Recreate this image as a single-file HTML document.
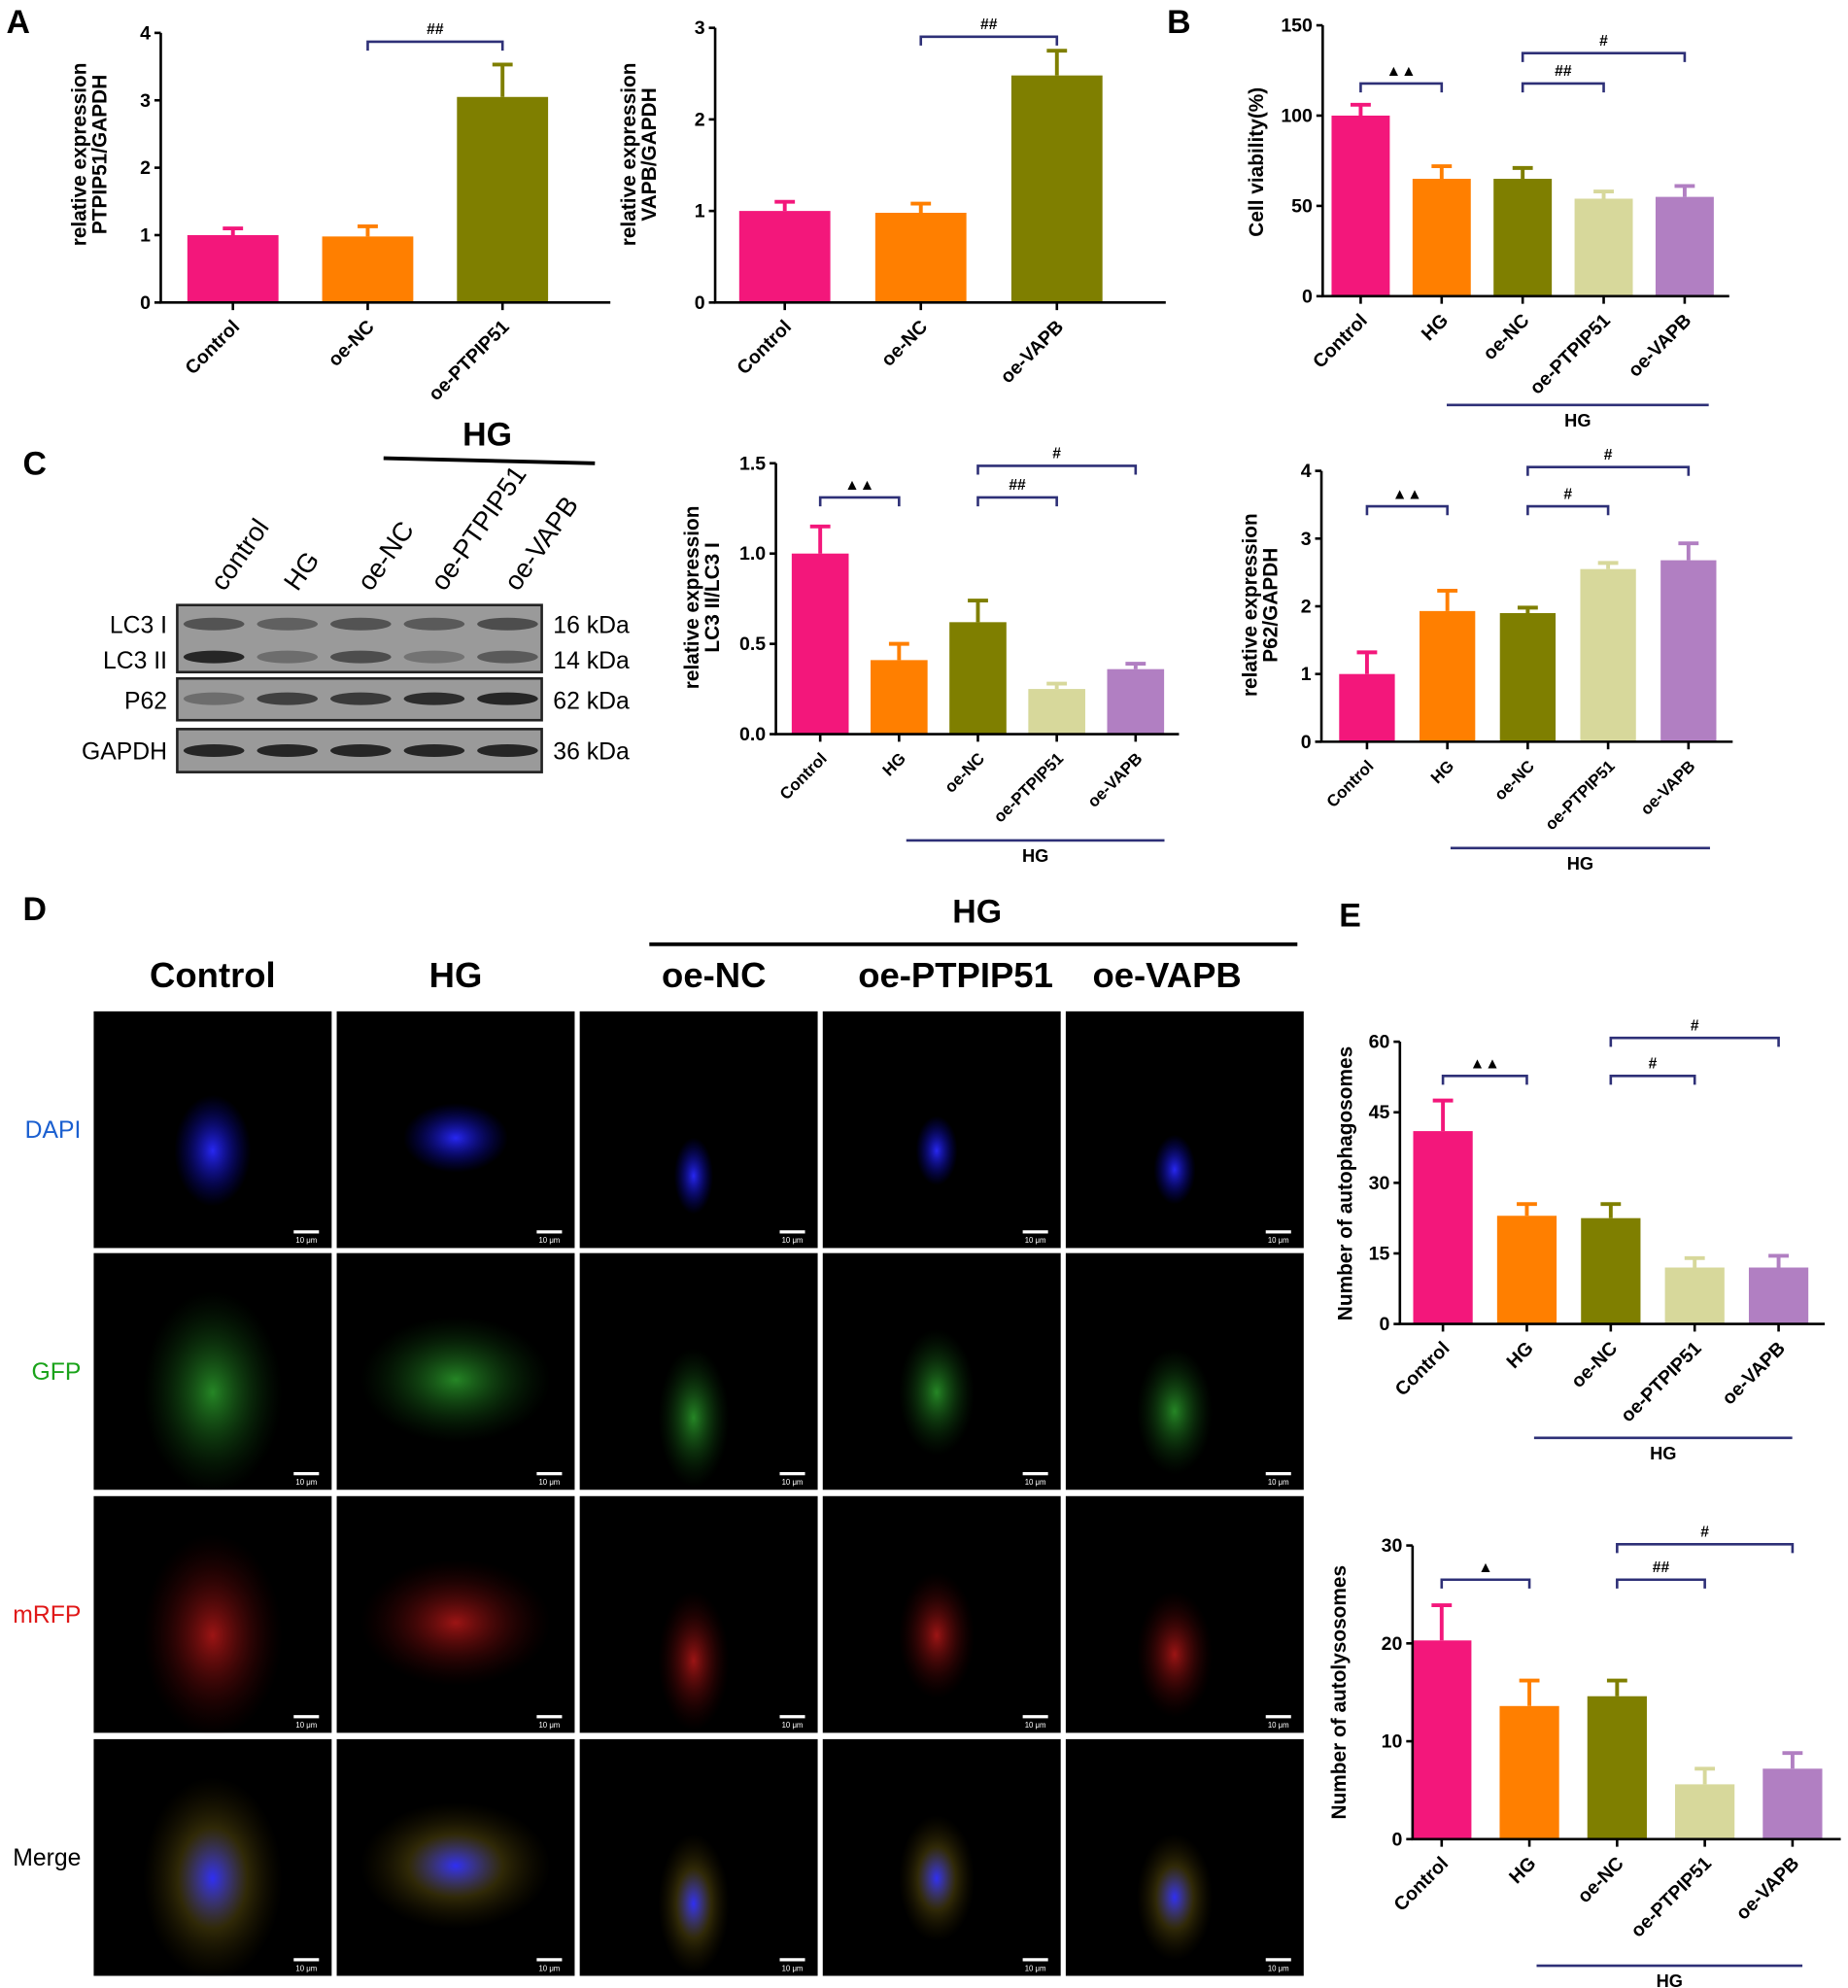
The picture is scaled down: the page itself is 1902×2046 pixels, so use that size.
<!DOCTYPE html>
<html><head><meta charset="utf-8"><style>
html,body{margin:0;padding:0;background:#fff;}
svg{display:block;font-family:"Liberation Sans",Arial,sans-serif;}
</style></head><body>
<svg id="fig" width="1902" height="2046" viewBox="0 0 1460 1570.6" xmlns="http://www.w3.org/2000/svg">
<defs>
<radialGradient id="gB"><stop offset="0" stop-color="#2a2aff" stop-opacity="0.95"/><stop offset="1" stop-color="#0000aa" stop-opacity="0"/></radialGradient>
<radialGradient id="gG"><stop offset="0" stop-color="#2fa82f" stop-opacity="0.8"/><stop offset="1" stop-color="#0a400a" stop-opacity="0"/></radialGradient>
<radialGradient id="gR"><stop offset="0" stop-color="#c41a1a" stop-opacity="0.8"/><stop offset="1" stop-color="#400000" stop-opacity="0"/></radialGradient>
<radialGradient id="gY"><stop offset="0" stop-color="#a09020" stop-opacity="0.85"/><stop offset="1" stop-color="#403000" stop-opacity="0"/></radialGradient>
</defs>
<g font-weight="bold" font-size="26">
<text x="5" y="26">A</text>
<text x="922" y="26">B</text>
<text x="18" y="375">C</text>
<text x="18" y="727">D</text>
<text x="1058" y="732">E</text>
</g>
<g id="charts"></g>
<g id="blot"></g>
<g id="micro"></g>
</svg>
<script>
const NS="http://www.w3.org/2000/svg";
const root=document.getElementById('charts');
function mk(tag,attrs,parent,text){const e=document.createElementNS(NS,tag);for(const k in attrs)e.setAttribute(k,attrs[k]);if(text!==undefined)e.textContent=text;(parent||root).appendChild(e);return e;}
const COLORS=["#f3177b","#ff7f00","#7f7f00","#d7d89b","#b17fc2"];
const NAVY="#2e3077";

// ---- Data ----
const catsA1=["Control","oe-NC","oe-PTPIP51"];
const valsA1=[1.0,0.98,3.05];
const errA1=[0.1,0.15,0.48];
const ticksA1=[0,1,2,3,4];

const catsA2=["Control","oe-NC","oe-VAPB"];
const valsA2=[1.0,0.98,2.48];
const errA2=[0.1,0.1,0.27];
const ticksA2=[0,1,2,3];

const catsB=["Control","HG","oe-NC","oe-PTPIP51","oe-VAPB"];
const valsB=[100,65,65,54,55];
const errB=[6,7,6,4,6];
const ticksB=[0,50,100,150];

const catsLC3=["Control","HG","oe-NC","oe-PTPIP51","oe-VAPB"];
const valsLC3=[1.0,0.41,0.62,0.25,0.36];
const errLC3=[0.15,0.09,0.12,0.03,0.03];
const ticksLC3=["0.0","0.5","1.0","1.5"];

const catsP62=["Control","HG","oe-NC","oe-PTPIP51","oe-VAPB"];
const valsP62=[1.0,1.93,1.9,2.55,2.68];
const errP62=[0.32,0.3,0.08,0.09,0.25];
const ticksP62=[0,1,2,3,4];

const catsE1=["Control","HG","oe-NC","oe-PTPIP51","oe-VAPB"];
const valsE1=[41,23,22.5,12,12];
const errE1=[6.5,2.5,3,2,2.5];
const ticksE1=[0,15,30,45,60];

const catsE2=["Control","HG","oe-NC","oe-PTPIP51","oe-VAPB"];
const valsE2=[20.3,13.6,14.6,5.6,7.2];
const errE2=[3.6,2.6,1.6,1.6,1.6];
const ticksE2=[0,10,20,30];

function chart(c){
  const g=mk('g',{});
  
  
  const max=Number(c.ticks[c.ticks.length-1]);
  const y=v=>c.y0-(v/max)*(c.y0-c.yTop);
  const x=i=>c.x0+i*c.step;
  const n=c.cats.length;
  const xEnd=x(n-1)+c.step*(c.ext||0.55);
  c.vals.forEach((v,i)=>{
    const col=COLORS[c.colorIdx?c.colorIdx[i]:i];
    const b=mk('rect',{x:x(i)-c.bw/2,y:y(v),width:c.bw,height:c.y0-y(v),fill:col},g);
    
    
    const e=mk('path',{d:`M${x(i)} ${y(v)}V${y(v+c.err[i])}M${x(i)-8} ${y(v+c.err[i])}H${x(i)+8}`,stroke:col,'stroke-width':3,fill:'none'},g);
    
    
  });
  const ax=mk('path',{d:`M${c.axX} ${c.yTop}V${c.y0}H${xEnd}`,stroke:'#000','stroke-width':2,fill:'none'},g);
  
  
  c.ticks.forEach(t=>{
    const yy=y(Number(t));
    mk('line',{x1:c.axX-5,x2:c.axX,y1:yy,y2:yy,stroke:'#000','stroke-width':2},g);
    const tl=mk('text',{x:c.axX-8,y:yy+5,'text-anchor':'end','font-size':15,'font-weight':'bold'},g,String(t));
    
    
  });
  c.cats.forEach((cat,i)=>{
    mk('line',{x1:x(i),x2:x(i),y1:c.y0,y2:c.y0+6,stroke:'#000','stroke-width':2},g);
    const tl=mk('text',{x:x(i)+6,y:c.y0+20,'text-anchor':'end','font-size':c.fs||15,'font-weight':'bold',transform:`rotate(-45 ${x(i)+6} ${c.y0+20})`},g,cat);
    
    
  });
  const yt=mk('text',{x:0,y:0,'text-anchor':'middle','font-size':c.tfs||16,'font-weight':'bold',transform:`translate(${c.titleX} ${c.titleY}) rotate(-90)`},g);
  
  
  c.title.forEach((t,k)=>{mk('tspan',{x:0,dy:k?16:0},yt,t);});
  (c.br||[]).forEach(b=>{
    const yy=b[2];
    const bp=mk('path',{d:`M${x(b[0])} ${yy+7}V${yy}H${x(b[1])}V${yy+7}`,stroke:NAVY,'stroke-width':2,fill:'none'},g);
    
    
    const st=mk('text',{x:(x(b[0])+x(b[1]))/2,y:yy-6,'text-anchor':'middle','font-size':12,'font-weight':'bold'},g,b[3]);
    
    
  });
  if(c.hg){
    const hl=mk('line',{x1:c.hg[0],x2:c.hg[1],y1:c.hg[2],y2:c.hg[2],stroke:NAVY,'stroke-width':2},g);
    
    
    const ht=mk('text',{x:(c.hg[0]+c.hg[1])/2,y:c.hg[2]+17,'text-anchor':'middle','font-size':14,'font-weight':'bold'},g,'HG');
    
    
  }
}
chart({name:'chart-ptpip51',cats:catsA1,vals:valsA1,err:errA1,ticks:ticksA1,axX:127,y0:239,yTop:26,x0:184,step:106.5,bw:72,ext:0.8,colorIdx:[0,1,2],title:['relative expression','PTPIP51/GAPDH'],titleX:68,titleY:122,br:[[1,2,33,'##']]});
chart({name:'chart-vapb',cats:catsA2,vals:valsA2,err:errA2,ticks:ticksA2,axX:565,y0:239,yTop:22,x0:620,step:107.5,bw:72,ext:0.8,colorIdx:[0,1,2],title:['relative expression','VAPB/GAPDH'],titleX:502,titleY:122,br:[[1,2,29,'##']]});
chart({name:'chart-cell-viability',cats:catsB,vals:valsB,err:errB,ticks:ticksB,axX:1045,y0:234,yTop:20,x0:1075,step:64,bw:46,title:['Cell viability(%)'],titleX:998,titleY:128,br:[[0,1,66,'▲▲'],[2,3,66,'##'],[2,4,42,'#']],hg:[1143,1350,320]});
chart({name:'chart-lc3',cats:catsLC3,vals:valsLC3,err:errLC3,ticks:ticksLC3,axX:613,y0:580,yTop:366,x0:648,step:62.3,bw:45,fs:13,title:['relative expression','LC3 II/LC3 I'],titleX:552,titleY:472,br:[[0,1,393,'▲▲'],[2,3,393,'##'],[2,4,368,'#']],hg:[716,920,664]});
chart({name:'chart-p62',cats:catsP62,vals:valsP62,err:errP62,ticks:ticksP62,axX:1044,y0:586,yTop:372,x0:1080,step:63.5,bw:44,fs:13,title:['relative expression','P62/GAPDH'],titleX:993,titleY:478,br:[[0,1,400,'▲▲'],[2,3,400,'#'],[2,4,369,'#']],hg:[1146,1351,670]});
chart({name:'chart-autophagosomes',cats:catsE1,vals:valsE1,err:errE1,ticks:ticksE1,axX:1106,y0:1046,yTop:823,x0:1140,step:66.3,bw:47,title:['Number of autophagosomes'],titleX:1068,titleY:935,br:[[0,1,850,'▲▲'],[2,3,850,'#'],[2,4,820,'#']],hg:[1212,1416,1136]});
chart({name:'chart-autolysosomes',cats:catsE2,vals:valsE2,err:errE2,ticks:ticksE2,axX:1116,y0:1453,yTop:1221,x0:1139,step:69.3,bw:47,title:['Number of autolysosomes'],titleX:1063,titleY:1337,br:[[0,1,1248,'▲'],[2,3,1248,'##'],[2,4,1220,'#']],hg:[1214,1424,1553]});

// ---- Western blot ----
const blot=document.getElementById('blot');
const lanes=["control","HG","oe-NC","oe-PTPIP51","oe-VAPB"];
const laneX=[169,227,285,343,401];
mk('text',{x:385,y:352,'text-anchor':'middle','font-size':26,'font-weight':'bold'},blot,'HG');
mk('line',{x1:303,y1:362,x2:470,y2:366,stroke:'#000','stroke-width':3},blot);
lanes.forEach((l,i)=>{
  const t=mk('text',{x:laneX[i]+8,y:468,'font-size':21,transform:`rotate(-55 ${laneX[i]+8} 468)`},blot,l);
  
  
});
const boxes=[[478,53],[536,33],[576,34]];
boxes.forEach(b=>mk('rect',{x:140,y:b[0],width:288,height:b[1],fill:'#9a9a9a',stroke:'#222','stroke-width':2},blot));
const bands=[[493,[0.55,0.45,0.55,0.5,0.6]],[519,[0.9,0.35,0.6,0.3,0.5]],[552,[0.35,0.7,0.75,0.85,0.9]],[593,[0.9,0.9,0.9,0.9,0.9]]];
bands.forEach(b=>b[1].forEach((o,i)=>{mk('ellipse',{cx:laneX[i],cy:b[0],rx:24,ry:5,fill:'#1a1a1a',opacity:o},blot);}));
[['LC3 I',493],['LC3 II',521],['P62',553],['GAPDH',593]].forEach(r=>mk('text',{x:132,y:r[1]+7,'text-anchor':'end','font-size':19},blot,r[0]));
[['16 kDa',493],['14 kDa',521],['62 kDa',553],['36 kDa',593]].forEach(r=>mk('text',{x:437,y:r[1]+7,'font-size':19},blot,r[0]));

// ---- Microscopy ----
const micro=document.getElementById('micro');
mk('text',{x:772,y:729,'text-anchor':'middle','font-size':26,'font-weight':'bold'},micro,'HG');
mk('line',{x1:513,x2:1025,y1:746,y2:746,stroke:'#000','stroke-width':3},micro);
const colNames=["Control","HG","oe-NC","oe-PTPIP51","oe-VAPB"];
const colX=[74,266,458,650,842];
const headX=[168,360,564,755,922];
const rowY=[799,990,1182,1374];
const rowNames=[["DAPI","#1a5fd0"],["GFP","#1aa31a"],["mRFP","#e01818"],["Merge","#000"]];
const colCx=[[168,110],[360,100],[548,130],[740,110],[928,125]];
const cellR=[[55,80],[75,50],[28,55],[30,50],[30,50]];
colNames.forEach((n,i)=>mk('text',{x:headX[i],y:780,'text-anchor':'middle','font-size':28,'font-weight':'bold'},micro,n));
rowNames.forEach((r,j)=>mk('text',{x:64,y:rowY[j]+100,'text-anchor':'end','font-size':19,fill:r[1]},micro,r[0]));
rowY.forEach((ry,j)=>colX.forEach((cx,i)=>{
  mk('rect',{x:cx,y:ry,width:188,height:187,fill:'#000'},micro);
  const ccx=colCx[i][0], ccy=ry+colCx[i][1];
  const g=['gB','gG','gR','gY'][j];
  if(j===0){mk('ellipse',{cx:ccx,cy:ccy,rx:cellR[i][0]*0.55,ry:cellR[i][1]*0.55,fill:'url(#gB)'},micro);}
  else{
    mk('ellipse',{cx:ccx,cy:ccy,rx:cellR[i][0],ry:cellR[i][1],fill:`url(#${g})`},micro);
    if(j===3) mk('ellipse',{cx:ccx,cy:ccy,rx:cellR[i][0]*0.5,ry:cellR[i][1]*0.5,fill:'url(#gB)'},micro);
  }
  mk('rect',{x:cx+158,y:ry+173,width:20,height:2.5,fill:'#fff'},micro);
  mk('text',{x:cx+168,y:ry+183,'text-anchor':'middle','font-size':6,fill:'#fff'},micro,'10 μm');
}));
</script>
</body></html>
